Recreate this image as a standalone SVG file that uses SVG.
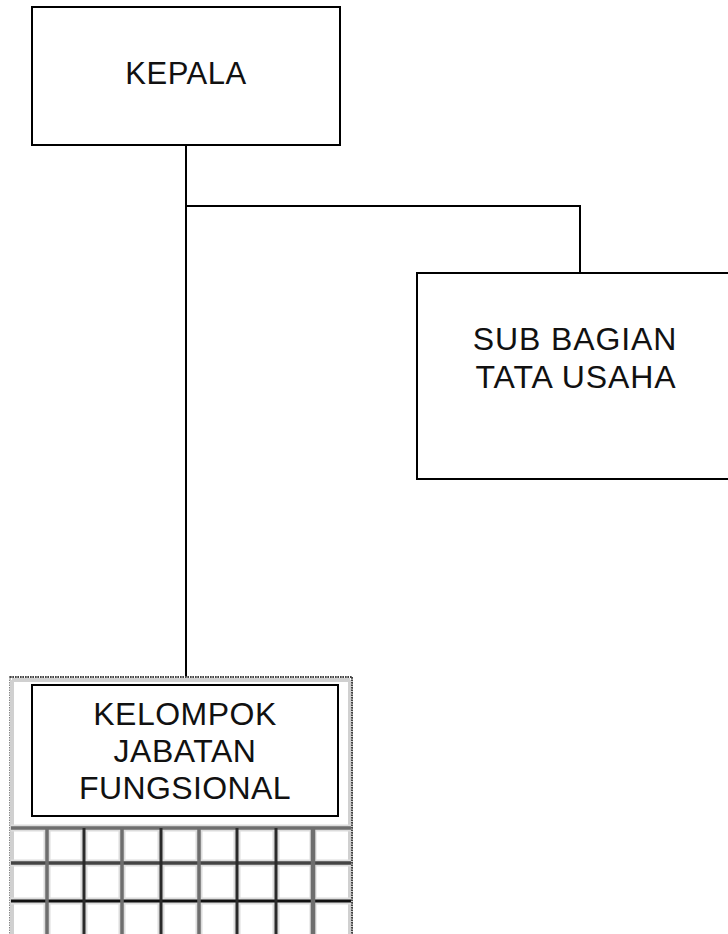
<svg xmlns="http://www.w3.org/2000/svg" width="728" height="934" viewBox="0 0 728 934">
<style>
.box{fill:#fff;stroke:#000;stroke-width:2}
.lbl{font-family:"Liberation Sans",Arial,sans-serif;font-size:32px;fill:#111;text-anchor:middle;letter-spacing:0.6px}
.conn{fill:none;stroke:#000;stroke-width:2}
.halo{stroke:#dcdcdc;stroke-width:7;fill:none}
.gl{stroke:#6e6e6e;stroke-width:3.5;fill:none}
.gd{stroke:#2a2a2a;stroke-width:3;fill:none}
</style>
<rect width="728" height="934" fill="#fff"/>
<g id="connectors">
<path class="conn" d="M186 145 V678"/>
<path class="conn" d="M186 206 H580 V273"/>
</g>
<g id="kepala">
<rect class="box" x="32" y="7" width="308" height="138"/>
<text class="lbl" x="186" y="84" style="font-size:31px;letter-spacing:0.5px">KEPALA</text>
</g>
<g id="subbagian">
<rect class="box" x="417" y="273" width="330" height="206"/>
<text class="lbl" x="575" y="350" style="letter-spacing:0.9px">SUB BAGIAN</text>
<text class="lbl" x="576" y="388" style="letter-spacing:0.9px">TATA USAHA</text>
</g>
<g id="kelompok">
<rect x="10" y="677" width="342" height="280" fill="#fff" stroke="#888" stroke-width="2" stroke-dasharray="1.5 1"/>
<path d="M12 680 H350 M12 680 V934 M350 680 V934" stroke="#d0d0d0" stroke-width="4" fill="none"/>
<path d="M10 677 H352 M352 677 V934" stroke="#444" stroke-width="2" stroke-dasharray="1.5 1" fill="none"/>
<g id="grid">
<path class="halo" d="M11 828 H351 M11 863 H351 M11 901 H351 M47 828 V934 M84 828 V934 M122 828 V934 M161 828 V934 M199 828 V934 M237 828 V934 M276 828 V934 M313 828 V934"/>
<path class="gl" d="M11 828 H351"/>
<path d="M11 863 H351" stroke="#444" stroke-width="3.5"/>
<path d="M11 901 H351" stroke="#111" stroke-width="3"/>
<path class="gl" d="M47 828 V934 M122 828 V934 M199 828 V934"/>
<path d="M313 828 V934" stroke="#6e6e6e" stroke-width="4.5"/>
<path class="gd" d="M84 828 V934 M161 828 V934 M237 828 V934 M276 828 V934"/>
</g>
<rect class="box" x="32" y="685" width="306" height="131"/>
<text class="lbl" x="185" y="725" style="letter-spacing:0.5px">KELOMPOK</text>
<text class="lbl" x="185" y="762" style="letter-spacing:0.5px">JABATAN</text>
<text class="lbl" x="185" y="799" style="letter-spacing:0.4px">FUNGSIONAL</text>
</g>
</svg>
